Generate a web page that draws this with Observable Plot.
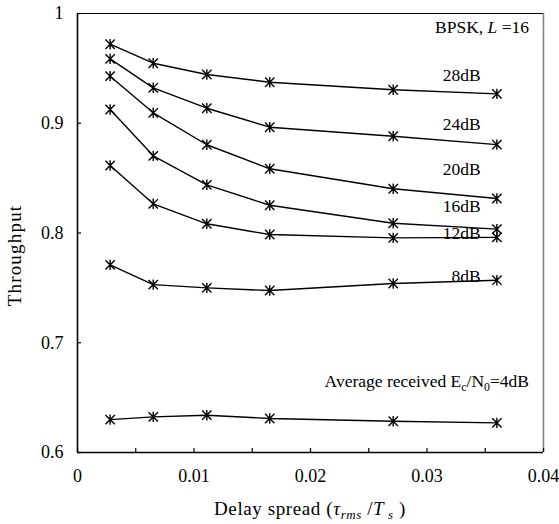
<!DOCTYPE html>
<html><head><meta charset="utf-8">
<script src="https://cdn.jsdelivr.net/npm/d3@7"></script>
<script src="https://cdn.jsdelivr.net/npm/@observablehq/plot@0.6"></script>
<style>body{margin:0;background:#fff} svg{display:block} svg text{font-family:"Liberation Serif","Times New Roman",serif !important;}</style>
</head><body><div id="chart"></div>
<script>
// Delay spread values (x)
const delaySpread = [0.0028, 0.0065, 0.0111, 0.0165, 0.0271, 0.0360];
// Series labels (average received Ec/N0)
const snrLabels = ["4dB", "8dB", "12dB", "16dB", "20dB", "24dB", "28dB"];
// Throughput per series
const tp4  = [0.630, 0.6325, 0.634, 0.631, 0.6285, 0.627];
const tp8  = [0.771, 0.753, 0.750, 0.7476, 0.754, 0.757];
const tp12 = [0.8615, 0.8266, 0.8084, 0.7986, 0.7956, 0.796];
const tp16 = [0.9125, 0.8703, 0.8439, 0.8253, 0.8089, 0.8035];
const tp20 = [0.9429, 0.9095, 0.8804, 0.8585, 0.8403, 0.8314];
const tp24 = [0.9587, 0.9323, 0.9137, 0.8964, 0.8882, 0.8805];
const tp28 = [0.972, 0.9547, 0.9444, 0.9374, 0.9305, 0.9268];
// Ticks
const xTicks = [0, 0.01, 0.02, 0.03, 0.04];
const xMinorTicks = [0, 0.005, 0.01, 0.015, 0.02, 0.025, 0.03, 0.035, 0.04];
const yTicks = [0.6, 0.7, 0.8, 0.9, 1];
// Curve annotations (data coordinates)
const curveLabels = ["28dB", "24dB", "20dB", "16dB", "12dB", "8dB"];
const curveLabelY = [0.9383, 0.8934, 0.8524, 0.819, 0.7947, 0.7558];
const curveLabelX = 0.0346;
const noteX = 0.0388;
const bpskY = 0.9815;
const avgY = 0.6595;

const seriesValues = [tp4, tp8, tp12, tp16, tp20, tp24, tp28];
const data = seriesValues.flatMap((vals, i) =>
  vals.map((v, j) => ({snr: snrLabels[i], x: delaySpread[j], y: v})));
const labelData = curveLabels.map((t, i) => ({t, x: curveLabelX, y: curveLabelY[i]}));

const asterisk = {
  draw(ctx, size) {
    const r = Math.sqrt(size / Math.PI);
    const d = r * 0.9;
    ctx.moveTo(0, -r); ctx.lineTo(0, r);
    ctx.moveTo(-d, -d); ctx.lineTo(d, d);
    ctx.moveTo(-d, d); ctx.lineTo(d, -d);
  }
};

const FONT = "Liberation Serif, Times New Roman, serif";

const svg = Plot.plot({
  width: 559, height: 524,
  marginLeft: 77, marginRight: 16, marginTop: 13, marginBottom: 72,
  style: {fontFamily: FONT, fontSize: "17.5px", color: "#000", background: "#fff"},
  x: {domain: [0, 0.04]},
  y: {domain: [0.6, 1]},
  marks: [
    Plot.ruleY([1], {stroke: "#000", strokeWidth: 1}),
    Plot.ruleX([0.04], {stroke: "#808080", strokeWidth: 1.5}),
    Plot.axisX(xMinorTicks, {tickSize: 4, dy: -4, tickFormat: () => "", label: null, strokeWidth: 1.2}),
    Plot.axisX(xTicks, {tickSize: 0, tickPadding: 17, tickFormat: d => String(d), label: null, fontSize: 18, fontFamily: FONT}),
    Plot.axisY(yTicks, {tickSize: 4, dx: 4, tickFormat: () => "", label: null, strokeWidth: 1.2}),
    Plot.axisY(yTicks, {tickSize: 0, tickPadding: 14, tickFormat: d => String(d), label: null, fontSize: 18, fontFamily: FONT}),
    Plot.ruleX([0], {stroke: "#000", strokeWidth: 1.6}),
    Plot.ruleY([0.6], {stroke: "#000", strokeWidth: 1.6}),
    Plot.line(data, {x: "x", y: "y", z: "snr", stroke: "#000", strokeWidth: 1.4}),
    Plot.dot(data, {x: "x", y: "y", symbol: asterisk, r: 5.2, stroke: "#000", strokeWidth: 1.4, fill: "none"}),
    Plot.text(labelData, {x: "x", y: "y", text: "t", textAnchor: "end", lineAnchor: "bottom", fontSize: 17.5, fontFamily: FONT, fill: "#000"})
  ]
});

const xs = svg.scale("x"), ys = svg.scale("y");
const root = d3.select(svg);

function addText(x, y, anchor, parts, extra) {
  const t = root.append("text")
    .attr("x", x).attr("y", y)
    .attr("text-anchor", anchor)
    .attr("font-family", FONT)
    .attr("font-size", 17.5)
    .attr("fill", "#000");
  if (extra) extra(t);
  let shift = 0;
  for (const p of parts) {
    const s = t.append("tspan").text(p.text);
    if (p.italic) s.attr("font-style", "italic");
    const target = p.sub ? 4 : 0;
    if (target !== shift) { s.attr("dy", target - shift); shift = target; }
    if (p.sub) s.attr("font-size", "68%");
  }
  return t;
}

// BPSK annotation
addText(xs.apply(noteX), ys.apply(bpskY), "end", [
  {text: "BPSK, "}, {text: "L", italic: true}, {text: " =16"}
]);
// Average received annotation
addText(xs.apply(noteX), ys.apply(avgY), "end", [
  {text: "Average received E"}, {text: "c", sub: true}, {text: "/N"}, {text: "0", sub: true}, {text: "=4dB"}
]);
// X axis title
addText((xs.range[0] + xs.range[1]) / 2, 515, "middle", [
  {text: "Delay spread ("}, {text: "τ", italic: true}, {text: "rms", italic: true, sub: true},
  {text: " /"}, {text: "T", italic: true}, {text: " s", italic: true, sub: true}, {text: " )"}
], t => t.attr("font-size", 19).attr("letter-spacing", 0.6));
// Y axis title
addText(0, 0, "middle", [{text: "Throughput"}],
  t => t.attr("transform", `translate(21,${(ys.range[0] + ys.range[1]) / 2 + 23}) rotate(-90)`).attr("font-size", 19).attr("letter-spacing", 1.2));

root.selectAll("text").attr("font-family", FONT);
document.getElementById("chart").appendChild(svg);
</script>
</body></html>
